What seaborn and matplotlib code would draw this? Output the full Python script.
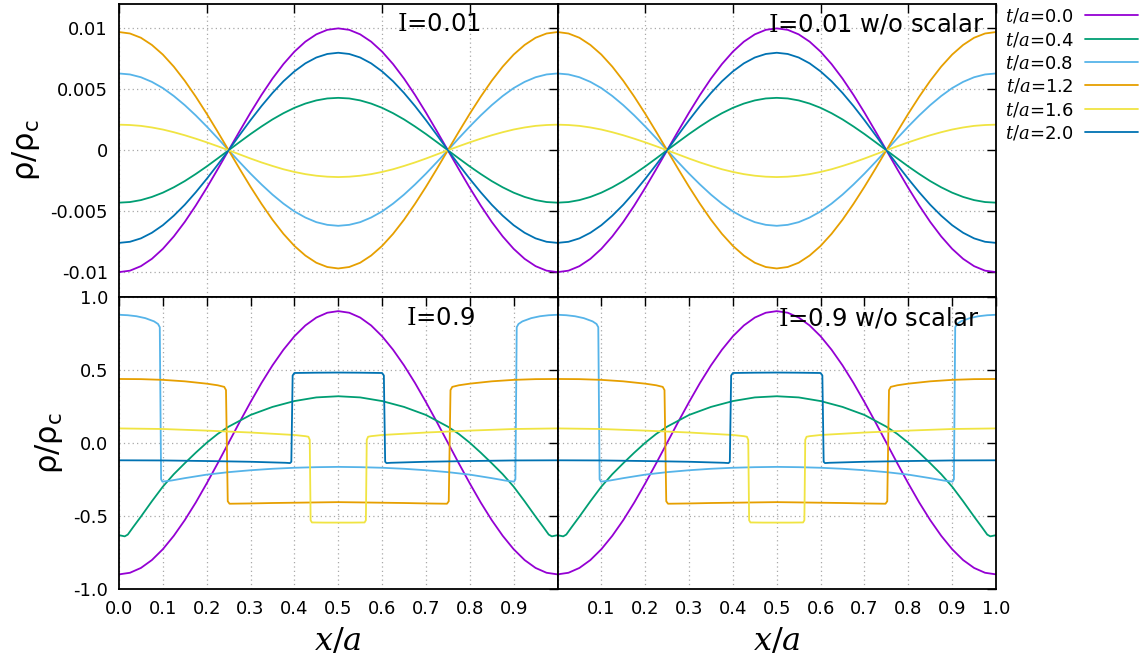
import numpy as np
import pandas as pd
import matplotlib
matplotlib.use("Agg")
import matplotlib.pyplot as plt
import seaborn as sns

# ---------------- data ----------------
labels = ["0.0", "0.4", "0.8", "1.2", "1.6", "2.0"]
colors = ["#9400D3", "#009E73", "#56B4E9", "#E69F00", "#F0E442", "#0072B2"]

x_top = [0.0, 0.025, 0.05, 0.075, 0.1, 0.125, 0.15, 0.175, 0.2, 0.225, 0.25,
         0.275, 0.3, 0.325, 0.35, 0.375, 0.4, 0.425, 0.45, 0.475, 0.5,
         0.525, 0.55, 0.575, 0.6, 0.625, 0.65, 0.675, 0.7, 0.725, 0.75,
         0.775, 0.8, 0.825, 0.85, 0.875, 0.9, 0.925, 0.95, 0.975, 1.0]

# I = 0.01
top_t00 = [-0.01000, -0.00988, -0.00951, -0.00891, -0.00809, -0.00707, -0.00588, -0.00454, -0.00309, -0.00156, 0.0,
           0.00156, 0.00309, 0.00454, 0.00588, 0.00707, 0.00809, 0.00891, 0.00951, 0.00988, 0.01000,
           0.00988, 0.00951, 0.00891, 0.00809, 0.00707, 0.00588, 0.00454, 0.00309, 0.00156, 0.0,
           -0.00156, -0.00309, -0.00454, -0.00588, -0.00707, -0.00809, -0.00891, -0.00951, -0.00988, -0.01000]
top_t04 = [-0.00430, -0.00425, -0.00409, -0.00383, -0.00348, -0.00304, -0.00253, -0.00195, -0.00133, -0.00067, 0.0,
           0.00067, 0.00133, 0.00195, 0.00253, 0.00304, 0.00348, 0.00383, 0.00409, 0.00425, 0.00430,
           0.00425, 0.00409, 0.00383, 0.00348, 0.00304, 0.00253, 0.00195, 0.00133, 0.00067, 0.0,
           -0.00067, -0.00133, -0.00195, -0.00253, -0.00304, -0.00348, -0.00383, -0.00409, -0.00425, -0.00430]
top_t08 = [0.00630, 0.00622, 0.00599, 0.00561, 0.00510, 0.00445, 0.00370, 0.00286, 0.00195, 0.00099, 0.0,
           -0.00097, -0.00192, -0.00281, -0.00364, -0.00438, -0.00502, -0.00552, -0.00590, -0.00612, -0.00620,
           -0.00612, -0.00590, -0.00552, -0.00502, -0.00438, -0.00364, -0.00281, -0.00192, -0.00097, 0.0,
           0.00099, 0.00195, 0.00286, 0.00370, 0.00445, 0.00510, 0.00561, 0.00599, 0.00622, 0.00630]
top_t12 = [0.00970, 0.00958, 0.00923, 0.00864, 0.00785, 0.00686, 0.00570, 0.00440, 0.00300, 0.00152, 0.0,
           -0.00152, -0.00300, -0.00440, -0.00570, -0.00686, -0.00785, -0.00864, -0.00923, -0.00958, -0.00970,
           -0.00958, -0.00923, -0.00864, -0.00785, -0.00686, -0.00570, -0.00440, -0.00300, -0.00152, 0.0,
           0.00152, 0.00300, 0.00440, 0.00570, 0.00686, 0.00785, 0.00864, 0.00923, 0.00958, 0.00970]
top_t16 = [0.00210, 0.00207, 0.00200, 0.00187, 0.00170, 0.00148, 0.00123, 0.00095, 0.00065, 0.00033, 0.0,
           -0.00034, -0.00068, -0.00100, -0.00129, -0.00156, -0.00178, -0.00196, -0.00209, -0.00217, -0.00220,
           -0.00217, -0.00209, -0.00196, -0.00178, -0.00156, -0.00129, -0.00100, -0.00068, -0.00034, 0.0,
           0.00033, 0.00065, 0.00095, 0.00123, 0.00148, 0.00170, 0.00187, 0.00200, 0.00207, 0.00210]
top_t20 = [-0.00760, -0.00751, -0.00723, -0.00677, -0.00615, -0.00537, -0.00447, -0.00345, -0.00235, -0.00119, 0.0,
           0.00125, 0.00247, 0.00363, 0.00470, 0.00566, 0.00647, 0.00713, 0.00761, 0.00790, 0.00800,
           0.00790, 0.00761, 0.00713, 0.00647, 0.00566, 0.00470, 0.00363, 0.00247, 0.00125, 0.0,
           -0.00119, -0.00235, -0.00345, -0.00447, -0.00537, -0.00615, -0.00677, -0.00723, -0.00751, -0.00760]

# I = 0.9
bot_x00 = x_top
bot_t00 = [-0.900, -0.889, -0.856, -0.802, -0.728, -0.636, -0.529, -0.409, -0.278, -0.141, 0.0,
           0.141, 0.278, 0.409, 0.529, 0.636, 0.728, 0.802, 0.856, 0.889, 0.900,
           0.889, 0.856, 0.802, 0.728, 0.636, 0.529, 0.409, 0.278, 0.141, 0.0,
           -0.141, -0.278, -0.409, -0.529, -0.636, -0.728, -0.802, -0.856, -0.889, -0.900]
bot_x04 = [0.0, 0.013, 0.02, 0.032, 0.05, 0.075, 0.1, 0.125, 0.15, 0.175, 0.2, 0.225, 0.25, 0.3, 0.35, 0.4, 0.45, 0.5,
           0.55, 0.6, 0.65, 0.7, 0.75, 0.775, 0.8, 0.825, 0.85, 0.875, 0.9, 0.925, 0.95, 0.968, 0.98, 0.987, 1.0]
bot_t04 = [-0.632, -0.640, -0.628, -0.578, -0.505, -0.400, -0.300, -0.215, -0.140, -0.068, 0.000, 0.060, 0.110,
           0.190, 0.245, 0.285, 0.310, 0.318, 0.310, 0.285, 0.245, 0.190, 0.110, 0.060, 0.000, -0.068, -0.140,
           -0.215, -0.300, -0.400, -0.505, -0.578, -0.628, -0.640, -0.632]
bot_x08 = [0.0, 0.02, 0.04, 0.06, 0.08, 0.089, 0.093, 0.096, 0.099, 0.12, 0.15, 0.2, 0.25, 0.3, 0.35, 0.4, 0.45, 0.5,
           0.55, 0.6, 0.65, 0.7, 0.75, 0.8, 0.85, 0.88, 0.901, 0.904, 0.907, 0.911, 0.92, 0.94, 0.96, 0.98, 1.0]
bot_t08 = [0.875, 0.872, 0.865, 0.852, 0.830, 0.812, 0.790, -0.250, -0.266, -0.258, -0.242, -0.218, -0.201, -0.188,
           -0.178, -0.171, -0.167, -0.165, -0.167, -0.171, -0.178, -0.188, -0.201, -0.218, -0.242, -0.258, -0.266,
           -0.250, 0.790, 0.812, 0.830, 0.852, 0.865, 0.872, 0.875]
bot_x12 = [0.0, 0.05, 0.1, 0.15, 0.2, 0.225, 0.24, 0.244, 0.248, 0.252, 0.3, 0.35, 0.4, 0.45, 0.5,
           0.55, 0.6, 0.65, 0.7, 0.748, 0.752, 0.756, 0.76, 0.775, 0.8, 0.85, 0.9, 0.95, 1.0]
bot_t12 = [0.436, 0.435, 0.430, 0.420, 0.404, 0.393, 0.382, 0.360, -0.400, -0.417, -0.415, -0.412, -0.410, -0.408,
           -0.406, -0.408, -0.410, -0.412, -0.415, -0.417, -0.400, 0.360, 0.382, 0.393, 0.404, 0.420, 0.430, 0.435, 0.436]
bot_x16 = [0.0, 0.1, 0.2, 0.3, 0.4, 0.425, 0.432, 0.435, 0.437, 0.44, 0.47, 0.5,
           0.53, 0.56, 0.563, 0.565, 0.568, 0.575, 0.6, 0.7, 0.8, 0.9, 1.0]
bot_t16 = [0.098, 0.094, 0.083, 0.070, 0.053, 0.045, 0.041, 0.020, -0.530, -0.545, -0.546, -0.546,
           -0.546, -0.545, -0.530, 0.020, 0.041, 0.045, 0.053, 0.070, 0.083, 0.094, 0.098]
bot_x20 = [0.0, 0.1, 0.2, 0.3, 0.38, 0.39, 0.393, 0.396, 0.4, 0.45, 0.5,
           0.55, 0.6, 0.604, 0.607, 0.61, 0.62, 0.7, 0.8, 0.9, 1.0]
bot_t20 = [-0.120, -0.121, -0.125, -0.130, -0.137, -0.139, -0.130, 0.460, 0.477, 0.479, 0.480,
           0.479, 0.477, 0.460, -0.130, -0.139, -0.137, -0.130, -0.125, -0.121, -0.120]

top_series = [(x_top, top_t00), (x_top, top_t04), (x_top, top_t08),
              (x_top, top_t12), (x_top, top_t16), (x_top, top_t20)]
bot_series = [(bot_x00, bot_t00), (bot_x04, bot_t04), (bot_x08, bot_t08),
              (bot_x12, bot_t12), (bot_x16, bot_t16), (bot_x20, bot_t20)]

panel_titles = [[r"$\mathrm{I}$=0.01", r"$\mathrm{I}$=0.01 w/o scalar"],
                [r"$\mathrm{I}$=0.9", r"$\mathrm{I}$=0.9 w/o scalar"]]

top_yticks = [-0.01, -0.005, 0.0, 0.005, 0.01]
top_ylabels = ["-0.01", "-0.005", "0", "0.005", "0.01"]
bot_yticks = [-1.0, -0.5, 0.0, 0.5, 1.0]
bot_ylabels = ["-1.0", "-0.5", "0.0", "0.5", "1.0"]
top_xticks = [0.0, 0.2, 0.4, 0.6, 0.8, 1.0]
bot_xticks = [0.0, 0.1, 0.2, 0.3, 0.4, 0.5, 0.6, 0.7, 0.8, 0.9, 1.0]
bot_xlabels_left = ["0.0", "0.1", "0.2", "0.3", "0.4", "0.5", "0.6", "0.7", "0.8", "0.9", ""]
bot_xlabels_right = ["", "0.1", "0.2", "0.3", "0.4", "0.5", "0.6", "0.7", "0.8", "0.9", "1.0"]

# ---------------- style ----------------
sns.set_theme(style="white")
plt.rcParams["font.family"] = ["DejaVu Sans"]
plt.rcParams["mathtext.fontset"] = "dejavuserif"
plt.rcParams["axes.unicode_minus"] = False
plt.rcParams["text.color"] = "black"
plt.rcParams["axes.labelcolor"] = "black"

fig, axes = plt.subplots(2, 2, figsize=(11.46, 6.60), dpi=100)
fig.subplots_adjust(left=119 / 1146, right=996 / 1146, top=(660 - 4) / 660,
                    bottom=(660 - 589) / 660, wspace=0, hspace=0)

title_pos = [[(0.635, 0.93), (0.481, 0.93)], [(0.655, 0.928), (0.503, 0.928)]]

for r in range(2):
    series = top_series if r == 0 else bot_series
    for c in range(2):
        ax = axes[r, c]
        for (xs, ys), lab, col in zip(series, labels, colors):
            df = pd.DataFrame({"x": xs, "rho": ys})
            sns.lineplot(data=df, x="x", y="rho", ax=ax, color=col, lw=1.3,
                         estimator=None, sort=False, label=r"$t/a$=" + lab, legend=False)
        ax.set_xlim(0, 1)
        if r == 0:
            ax.set_ylim(-0.012, 0.012)
            ax.set_yticks(top_yticks)
            ax.set_yticklabels(top_ylabels if c == 0 else [""] * 5)
            ax.set_xticks(top_xticks)
            ax.set_xticklabels([""] * len(top_xticks))
            ax.set_xlabel("")
        else:
            ax.set_ylim(-1.0, 1.0)
            ax.set_yticks(bot_yticks)
            ax.set_yticklabels(bot_ylabels if c == 0 else [""] * 5)
            ax.set_xticks(bot_xticks)
            ax.set_xticklabels(bot_xlabels_left if c == 0 else bot_xlabels_right)
            ax.set_xlabel(r"$x/a$", fontsize=23, labelpad=6, color="black")
        if c == 0:
            ax.set_ylabel("ρ/ρ$_{\\mathsf{c}}$", fontsize=22, labelpad=6, color="black")
        else:
            ax.set_ylabel("")
        ax.tick_params(direction="in", length=6.5, width=1.0, top=True, right=True,
                       labelsize=13, pad=8, colors="black")
        ax.grid(True, color="#a8a8a8", linestyle=(0, (1, 2.5)), linewidth=0.9)
        for sp in ax.spines.values():
            sp.set_color("black")
            sp.set_linewidth(1.3)
        tx, ty = title_pos[r][c]
        ax.text(tx, ty, panel_titles[r][c], transform=ax.transAxes, fontsize=17.5,
                ha="left", va="center", color="black")

handles, leg_labels = axes[0, 0].get_legend_handles_labels()
fig.legend(handles, leg_labels, loc="upper right", bbox_to_anchor=(1141 / 1146, 1.0 - 4 / 660),
           frameon=False, markerfirst=False, fontsize=13, handlelength=2.95,
           handletextpad=0.65, labelspacing=0.24, borderaxespad=0.0, borderpad=0.15,
           labelcolor="black")

fig.savefig("out.png", dpi=100)
